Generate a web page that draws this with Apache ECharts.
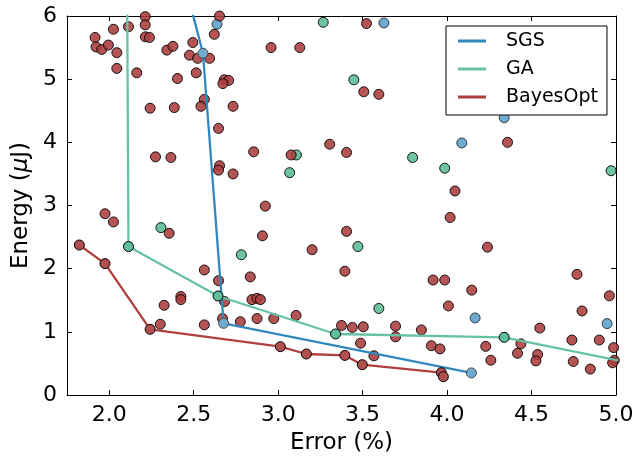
<!DOCTYPE html>
<html>
<head>
<meta charset="utf-8">
<script src="https://cdn.jsdelivr.net/npm/echarts@6/dist/echarts.min.js"></script>
<style>
  html, body { margin: 0; padding: 0; background: #fff; }
  #chart { width: 637px; height: 462px; }
</style>
</head>
<body>
<div id="chart"></div>
<script>
// tick positions
const xTicks = [2.0, 2.5, 3.0, 3.5, 4.0, 4.5, 5.0];
const yTicks = [0, 1, 2, 3, 4, 5, 6];

// pareto fronts [error %, energy uJ]
const sgsFront = [[2.40, 7.0], [2.555, 5.41], [2.677, 1.135], [4.144, 0.35]];
const gaFront = [[2.105, 6.9], [2.114, 2.35], [2.644, 1.567], [3.34, 0.966], [4.338, 0.913], [5.05, 0.527]];
const bayesFront = [[1.823, 2.375], [1.975, 2.08], [2.242, 1.04], [3.013, 0.765], [3.167, 0.649],
  [3.395, 0.627], [3.498, 0.48], [3.966, 0.353], [3.978, 0.29]];

// sampled designs
const sgsSamples = [[2.638, 5.87], [3.626, 5.89], [4.338, 4.39], [4.087, 3.99], [4.166, 1.22], [4.947, 1.13]];
const gaSamples = [[3.267, 5.90], [3.448, 4.99], [3.108, 3.80], [3.068, 3.52], [3.796, 3.76], [3.986, 3.59],
  [4.971, 3.55], [2.306, 2.65], [2.782, 2.22], [3.472, 2.35], [3.596, 1.37]];
const bayesSamples = [
  [2.213, 5.99], [2.213, 5.86], [2.114, 5.83], [2.025, 5.79], [1.916, 5.66], [1.922, 5.51], [1.956, 5.47],
  [1.995, 5.54], [2.045, 5.42], [2.045, 5.17], [2.163, 5.10], [2.214, 5.67], [2.238, 5.66], [2.341, 5.46],
  [2.377, 5.52], [2.404, 5.01], [2.495, 5.58], [2.475, 5.38], [2.523, 5.33], [2.594, 5.33], [2.515, 5.10],
  [2.622, 5.71], [2.653, 6.0], [2.681, 4.99], [2.707, 4.98], [2.673, 4.93], [2.563, 4.68], [2.543, 4.57],
  [2.733, 4.57], [2.242, 4.54], [2.385, 4.55], [2.647, 4.22], [2.855, 3.85], [2.274, 3.77], [2.365, 3.76],
  [2.653, 3.63], [2.647, 3.56], [2.733, 3.50],
  [1.975, 2.87], [2.025, 2.74], [2.355, 2.56], [2.563, 1.98], [2.647, 1.81], [2.835, 1.87], [2.424, 1.56],
  [2.424, 1.51], [2.325, 1.42], [2.683, 1.48], [2.845, 1.51], [2.875, 1.53], [2.895, 1.51], [2.302, 1.12],
  [2.563, 1.11], [2.671, 1.21], [2.776, 1.16], [2.875, 1.21], [2.907, 2.52],
  [2.924, 2.99], [3.405, 2.59], [3.201, 2.30], [3.395, 1.96], [2.974, 1.21], [3.106, 1.26], [3.375, 1.10],
  [3.439, 1.07], [3.504, 1.08], [3.695, 1.09], [3.695, 0.92], [3.848, 1.03], [3.488, 0.82], [3.567, 0.62],
  [3.907, 0.78], [3.958, 0.73], [3.917, 1.82], [3.986, 1.82], [4.008, 1.41], [4.018, 2.81],
  [4.047, 3.23], [4.239, 2.34], [4.146, 1.66], [4.229, 0.77], [4.259, 0.55], [4.437, 0.81], [4.417, 0.66],
  [4.549, 1.06], [4.536, 0.64], [4.526, 0.54], [4.769, 1.91], [4.799, 1.33], [4.739, 0.87], [4.747, 0.53],
  [4.848, 0.41], [4.901, 0.87], [4.961, 1.57], [4.986, 0.75], [4.99, 0.55], [4.98, 0.51], [4.358, 4.0],
  [3.523, 5.88], [2.958, 5.50], [3.128, 5.50], [3.507, 4.80], [3.596, 4.76], [3.077, 3.80], [3.305, 3.97],
  [3.405, 3.84]
];

const BLUE = '#3288bd';
const GREEN = '#5fbf98';
const RED = '#ab3c3c';
const FONT = 'DejaVu Sans';

const chart = echarts.init(document.getElementById('chart'));

function frameAxis(pos, min, max, ticks) {
  return {
    type: 'value', position: pos, min: min, max: max,
    axisLine: { show: true, onZero: false, lineStyle: { color: '#000', width: 1 } },
    axisTick: { show: true, inside: true, length: 5, customValues: ticks, lineStyle: { color: '#000' } },
    axisLabel: { show: false },
    splitLine: { show: false }
  };
}

const option = {
  animation: false,
  backgroundColor: '#fff',
  grid: { left: 67, right: 21, top: 16, bottom: 67 },
  xAxis: [
    {
      type: 'value', min: 1.75, max: 5.0,
      name: 'Error (%)', nameLocation: 'middle', nameGap: 37,
      nameTextStyle: { fontFamily: FONT, fontSize: 23, color: '#000' },
      axisLine: { onZero: false, lineStyle: { color: '#000', width: 1 } },
      axisTick: { inside: true, length: 5, customValues: xTicks, lineStyle: { color: '#000' } },
      axisLabel: {
        customValues: xTicks, margin: 9, fontFamily: FONT, fontSize: 22, color: '#000',
        formatter: v => v.toFixed(1)
      },
      splitLine: { show: false }
    },
    frameAxis('top', 1.75, 5.0, xTicks)
  ],
  yAxis: [
    {
      type: 'value', min: 0, max: 6,
      name: 'Energy ({mu|μ}J)', nameLocation: 'middle', nameGap: 30,
      nameTextStyle: {
        fontFamily: FONT, fontSize: 23, color: '#000',
        rich: { mu: { fontFamily: FONT, fontSize: 23, fontStyle: 'italic', color: '#000' } }
      },
      axisLine: { onZero: false, lineStyle: { color: '#000', width: 1 } },
      axisTick: { inside: true, length: 5, customValues: yTicks, lineStyle: { color: '#000' } },
      axisLabel: { customValues: yTicks, margin: 10, fontFamily: FONT, fontSize: 22, color: '#000' },
      splitLine: { show: false }
    },
    frameAxis('right', 0, 6, yTicks)
  ],
  legend: {
    orient: 'vertical', left: 446, top: 26,
    padding: [5, 9, 8, 12], itemGap: 8,
    itemWidth: 28, itemHeight: 3,
    backgroundColor: '#fff', borderColor: '#000', borderWidth: 1,
    textStyle: { fontFamily: FONT, fontSize: 19, lineHeight: 20, color: '#000', padding: [0, 0, 0, 15] },
    data: [
      { name: 'SGS', icon: 'rect', itemStyle: { color: BLUE, opacity: 1, borderWidth: 0 } },
      { name: 'GA', icon: 'rect', itemStyle: { color: '#66c2a5', opacity: 1, borderWidth: 0 } },
      { name: 'BayesOpt', icon: 'rect', itemStyle: { color: RED, opacity: 1, borderWidth: 0 } }
    ]
  },
  series: [
    {
      name: 'SGS samples', type: 'scatter', data: sgsSamples, symbolSize: 10, z: 2,
      itemStyle: { color: BLUE, opacity: 0.7, borderColor: '#000', borderWidth: 1 }
    },
    {
      name: 'GA samples', type: 'scatter', data: gaSamples, symbolSize: 10, z: 2,
      itemStyle: { color: GREEN, opacity: 0.9, borderColor: '#000', borderWidth: 1 }
    },
    {
      name: 'BayesOpt samples', type: 'scatter', data: bayesSamples, symbolSize: 10, z: 2,
      itemStyle: { color: RED, opacity: 0.88, borderColor: '#000', borderWidth: 1 }
    },
    {
      name: 'SGS', type: 'line', data: sgsFront, z: 3, clip: true,
      symbol: 'circle', symbolSize: 10,
      lineStyle: { color: BLUE, width: 2.3 },
      itemStyle: { color: '#6fabd0', borderColor: '#4d4d4d', borderWidth: 1 }
    },
    {
      name: 'GA', type: 'line', data: gaFront, z: 3, clip: true,
      symbol: 'circle', symbolSize: 10,
      lineStyle: { color: '#66c2a5', width: 2.3 },
      itemStyle: { color: GREEN, borderColor: '#000', borderWidth: 1 }
    },
    {
      name: 'BayesOpt', type: 'line', data: bayesFront, z: 3, clip: true,
      symbol: 'circle', symbolSize: 10,
      lineStyle: { color: '#b0403e', width: 2.3 },
      itemStyle: { color: '#b34f4f', borderColor: '#000', borderWidth: 1 }
    }
  ]
};

chart.setOption(option);
</script>
</body>
</html>
